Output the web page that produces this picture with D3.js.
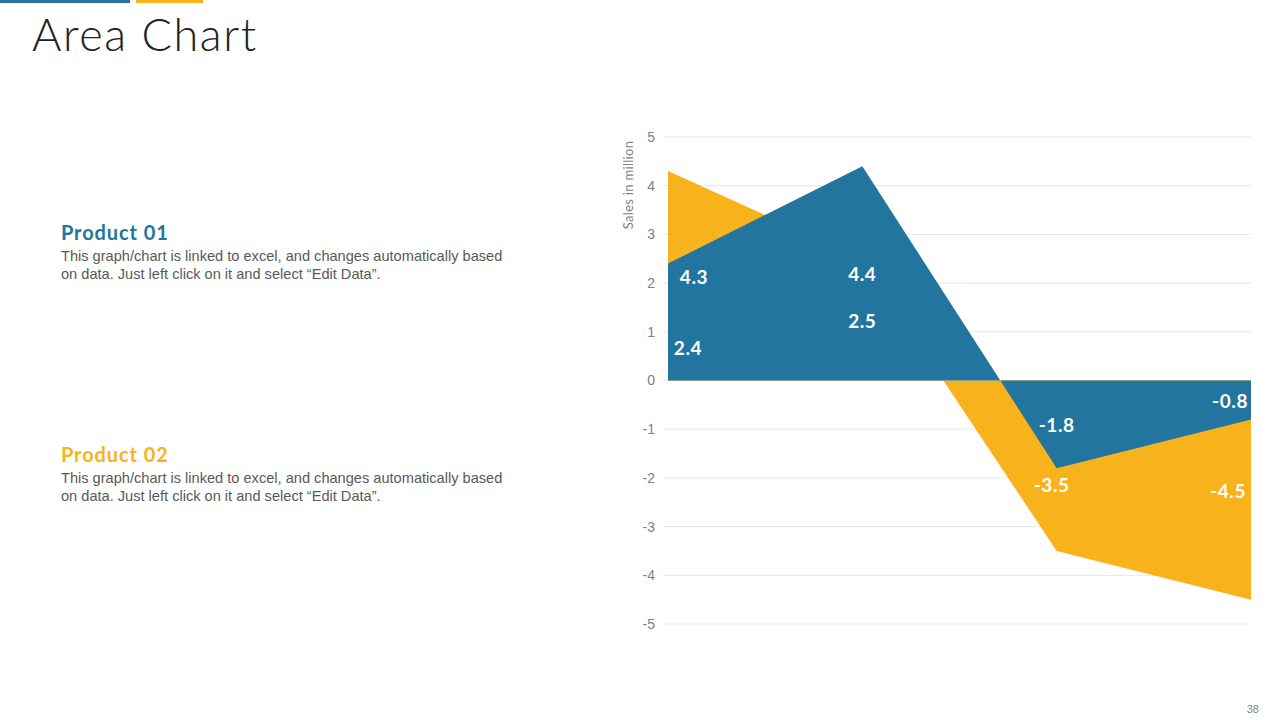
<!DOCTYPE html>
<html>
<head>
<meta charset="utf-8">
<script src="https://cdn.jsdelivr.net/npm/d3@7"></script>
<style>
  body { margin: 0; background: #fff; }
  svg { display: block; }
</style>
</head>
<body>
<svg id="canvas" width="1280" height="720"></svg>
<script>
// data
let categories = ['Cat 1', 'Cat 2', 'Cat 3', 'Cat 4']
let product01 = [2.4, 4.4, -1.8, -0.8]
let product02 = [4.3, 2.5, -3.5, -4.5]
let yTicks = [5, 4, 3, 2, 1, 0, -1, -2, -3, -4, -5]

// label nudges (px) so labels don't collide, like the original
let nudge01 = [[20, 25], [0, 0], [0, 0], [-21, 0]]
let nudge02 = [[26, 0], [0, 0], [-5, 18], [-23, 0]]

let blue = '#21759e'
let yellow = '#f7b21c'

let canvas = d3.select('#canvas')

// plain hyphen minus like the original
let fmtInt = d => String(d)
let fmtOne = d => d.toFixed(1)

// header bars + title
canvas.append('rect').attr('x', 0).attr('y', 0).attr('width', 130).attr('height', 3).attr('fill', blue)
canvas.append('rect').attr('x', 136).attr('y', 0).attr('width', 67).attr('height', 3).attr('fill', yellow)
canvas.append('text')
    .attr('x', 32).attr('y', 51)
    .attr('font-family', 'Lato, "Open Sans", sans-serif')
    .attr('font-weight', 300)
    .attr('font-size', 45)
    .attr('letter-spacing', 1.6)
    .attr('fill', '#222')
    .text('Area Chart')

// side text blocks
let blocks = [
    {title: 'Product 01', color: blue, y: 240},
    {title: 'Product 02', color: yellow, y: 462}
]
blocks.forEach(b => {
    canvas.append('text')
        .attr('x', 61).attr('y', b.y)
        .attr('font-family', 'Lato, "Open Sans", sans-serif')
        .attr('font-weight', 700)
        .attr('font-size', 20)
        .attr('letter-spacing', 0.9)
        .attr('fill', b.color)
        .text(b.title)
    let t = canvas.append('text')
        .attr('font-family', '"Liberation Sans", Arial, sans-serif')
        .attr('font-size', 14.6)
        .attr('fill', '#595959')
    t.append('tspan').attr('x', 61).attr('y', b.y + 21)
        .text('This graph/chart is linked to excel, and changes automatically based')
    t.append('tspan').attr('x', 61).attr('y', b.y + 39)
        .text('on data. Just left click on it and select \u201CEdit Data\u201D.')
})

// scales
let x = d3.scalePoint().domain(categories).range([668, 1251])
let y = d3.scaleLinear().domain([-5, 5]).range([624, 137])

// grid
canvas.append('g').selectAll('line')
    .data(yTicks)
    .enter()
    .append('line')
    .attr('x1', 663).attr('x2', 1251)
    .attr('y1', d => y(d)).attr('y2', d => y(d))
    .attr('stroke', '#e6e6e6')
    .attr('stroke-width', 1)

// y axis labels
let yAxis = d3.axisLeft(y).tickValues(yTicks).tickSize(0).tickPadding(0).tickFormat(fmtInt)
let axisG = canvas.append('g').attr('transform', 'translate(655,0)').call(yAxis)
axisG.select('.domain').remove()
axisG.selectAll('text')
    .attr('font-family', '"Liberation Sans", Arial, sans-serif')
    .attr('font-size', 14)
    .attr('fill', '#7f7f7f')

canvas.append('text')
    .attr('transform', 'translate(633,185) rotate(-90)')
    .attr('text-anchor', 'middle')
    .attr('font-family', 'Lato, "Open Sans", sans-serif')
    .attr('font-size', 13)
    .attr('letter-spacing', 0.3)
    .attr('fill', '#7f7f7f')
    .text('Sales in million')

// areas (Product 02 behind, Product 01 on top)
let area = d3.area()
    .x((d, i) => x(categories[i]))
    .y0(y(0))
    .y1(d => y(d))

canvas.append('path').datum(product02).attr('d', area).attr('fill', yellow)
canvas.append('path').datum(product01).attr('d', area).attr('fill', blue)

// data labels
let drawLabels = (values, nudge) => {
    canvas.append('g').selectAll('text')
        .data(values)
        .enter()
        .append('text')
        .attr('x', (d, i) => x(categories[i]) + nudge[i][0])
        .attr('y', (d, i) => y(d / 2) + nudge[i][1] + 8)
        .attr('text-anchor', 'middle')
        .attr('font-family', 'Lato, "Open Sans", sans-serif')
        .attr('font-weight', 700)
        .attr('font-size', 19)
        .attr('letter-spacing', 0.6)
        .attr('fill', '#fff')
        .text(d => fmtOne(d))
}
drawLabels(product01, nudge01)
drawLabels(product02, nudge02)

// page number
canvas.append('text')
    .attr('x', 1259).attr('y', 713)
    .attr('text-anchor', 'end')
    .attr('font-family', '"Liberation Sans", Arial, sans-serif')
    .attr('font-size', 11)
    .attr('fill', '#7f7f7f')
    .text('38')
</script>
</body>
</html>
